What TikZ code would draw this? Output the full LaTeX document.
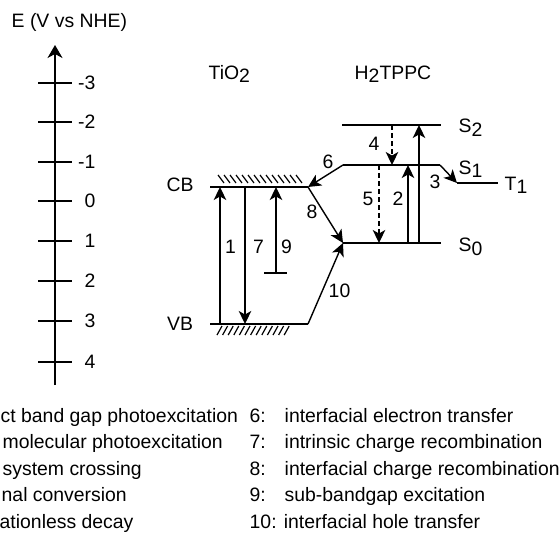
\documentclass[tikz,border=0pt]{standalone}
\usepackage{fontspec}
\setmainfont{Liberation Sans}
\usetikzlibrary{arrows.meta}
\newcommand\lsub[1]{\raisebox{-3.5pt}{#1}}
\begin{document}
\begin{tikzpicture}[x=1pt,y=-1pt,line width=1.4pt,
  arr/.style={-{Stealth[length=13pt,width=12.5pt,inset=3.5pt]}},
  axarr/.style={-{Stealth[length=13pt,width=15pt,inset=4pt]}},
  dsh/.style={dash pattern=on 5pt off 3pt},
  lbl/.style={font=\fontsize{19.4}{23}\selectfont,inner sep=0pt},
  hatch/.style={line width=1.2pt}]
\useasboundingbox (0,0) rectangle (560,535);
% title and axis
\node[lbl,anchor=base west] (title) at (11,28) {E (V vs NHE)};
\coordinate (axb) at (55,385);
\coordinate (axt) at (55,45);
\draw[axarr] (axb) -- (axt);
\foreach \yy/\ll [count=\k] in {83/-3,122/-2,162/-1,201/0,241/1,281/2,321/3,362/4}{
  \coordinate (tl\k) at (38,\yy);
  \coordinate (tr\k) at (72,\yy);
  \draw (tl\k) -- (tr\k);
  \node[lbl,anchor=east] (tn\k) at (96,\yy) {\ll};
}
% headers
\node[lbl,anchor=base west] (tio) at (208,79.5) {TiO\lsub{2}};
\node[lbl,anchor=base west] (htp) at (354,79.5) {H\lsub{2}TPPC};
% TiO2 bands
\coordinate (cbL) at (210,187);
\coordinate (cbR) at (308,187);
\coordinate (vbL) at (210,324);
\coordinate (vbR) at (308,324);
\draw (cbL) -- (cbR);
\draw (vbL) -- (vbR);
\foreach \i in {0,...,13}{\draw[hatch] (218+6*\i,175) -- (224+6*\i,183);}
\foreach \i in {0,...,12}{\draw[hatch] (217+5.6*\i,335) -- (222+5.6*\i,326);}
\node[lbl] (cb) at (180,185) {CB};
\node[lbl] (vb) at (180,324) {VB};
% H2TPPC levels
\coordinate (s2L) at (342,125);
\coordinate (s2R) at (441,125);
\coordinate (s1L) at (343,165);
\coordinate (s1R) at (440,165);
\coordinate (s0L) at (343,243);
\coordinate (s0R) at (441,243);
\coordinate (t1L) at (457,183);
\coordinate (t1R) at (498,183);
\draw (s2L) -- (s2R);
\draw (s1L) -- (s1R);
\draw (s0L) -- (s0R);
\draw (t1L) -- (t1R);
\node[lbl,anchor=base west] (s2) at (458,132.5) {S\lsub{2}};
\node[lbl,anchor=base west] (s1) at (458,174) {S\lsub{1}};
\node[lbl,anchor=base west] (t1) at (504,190) {T\lsub{1}};
\node[lbl,anchor=base west] (s0) at (458,251.5) {S\lsub{0}};
% vertical processes in TiO2
\coordinate (a1b) at (220,324); \coordinate (a1t) at (220,187);
\coordinate (a7t) at (245,187); \coordinate (a7b) at (245,324);
\coordinate (a9b) at (276,273); \coordinate (a9t) at (276,187);
\coordinate (b9l) at (264,273); \coordinate (b9r) at (287,273);
\draw[arr] (a1b) -- (a1t);
\draw[arr] (a7t) -- (a7b);
\draw[arr] (a9b) -- (a9t);
\draw (b9l) -- (b9r);
% interfacial processes
\draw[arr] (s1L) -- (cbR);
\draw[arr] (cbR) -- (s0L);
\draw[arr] (vbR) -- (s0L);
% molecular processes
\coordinate (a4t) at (392,125); \coordinate (a4b) at (392,165);
\coordinate (a5t) at (379,165); \coordinate (a5b) at (379,243);
\coordinate (a2b) at (408,243); \coordinate (a2t) at (408,165);
\coordinate (axb2) at (419,243); \coordinate (axt2) at (419,125);
\draw[arr,dsh] (a4t) -- (a4b);
\draw[arr,dsh] (a5t) -- (a5b);
\draw[arr] (a2b) -- (a2t);
\draw[arr] (axb2) -- (axt2);
\draw[arr] (s1R) -- (t1L);
% process numbers
\node[lbl] (n1) at (230.5,247) {1};
\node[lbl] (n7) at (258.5,247) {7};
\node[lbl] (n9) at (286.5,247) {9};
\node[lbl] (n8) at (312,212) {8};
\node[lbl] (n6) at (328,162) {6};
\node[lbl] (n10) at (339.5,290.5) {10};
\node[lbl] (n4) at (374,144) {4};
\node[lbl] (n5) at (368,199) {5};
\node[lbl] (n2) at (398,199) {2};
\node[lbl] (n3) at (435,182) {3};
% legend
\node[lbl,anchor=base west] (l1) at (0,422) {ct band gap photoexcitation};
\node[lbl,anchor=base west] (l2) at (2,448.5) {molecular photoexcitation};
\node[lbl,anchor=base west] (l3) at (2,475) {system crossing};
\node[lbl,anchor=base west] (l4) at (1,501.5) {nal conversion};
\node[lbl,anchor=base west] (l5) at (-1,528) {ationless decay};
\node[lbl,anchor=base west] (k6) at (249,422) {6:};
\node[lbl,anchor=base west] (k7) at (249,448.5) {7:};
\node[lbl,anchor=base west] (k8) at (249,475) {8:};
\node[lbl,anchor=base west] (k9) at (249,501.5) {9:};
\node[lbl,anchor=base west] (r6) at (284,422) {interfacial electron transfer};
\node[lbl,anchor=base west] (r7) at (284,448.5) {intrinsic charge recombination};
\node[lbl,anchor=base west] (r8) at (284,475) {interfacial charge recombination};
\node[lbl,anchor=base west] (r9) at (284,501.5) {sub-bandgap excitation};
\node[lbl,anchor=base west] (r10) at (249,528) {10: interfacial hole transfer};
\end{tikzpicture}
\end{document}
